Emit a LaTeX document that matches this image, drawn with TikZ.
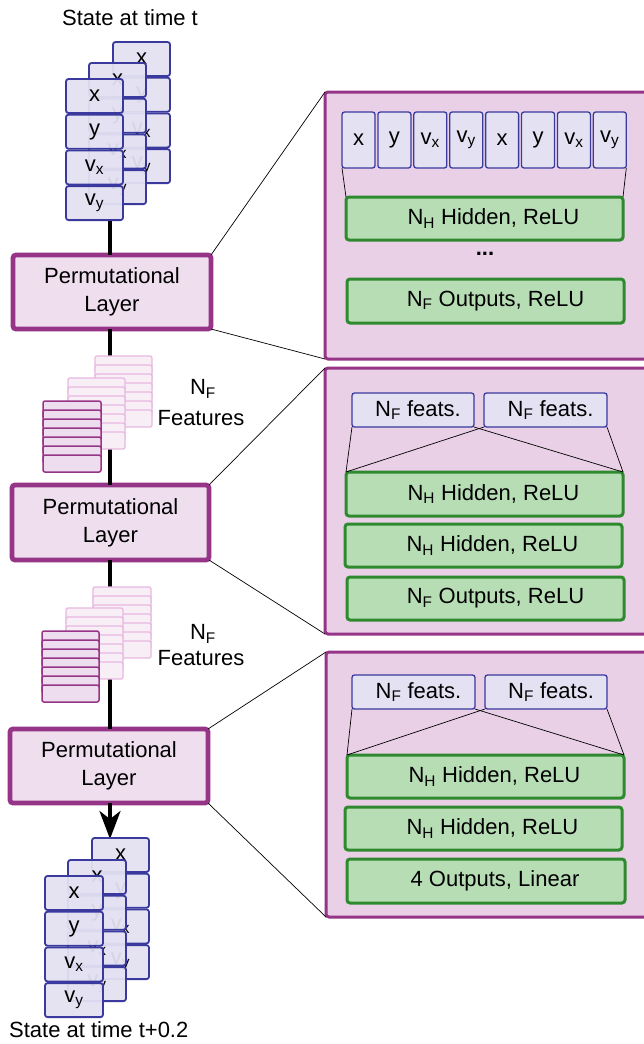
\documentclass[tikz,border=0pt]{standalone}
\usepackage{fontspec}
\setmainfont{Liberation Sans}
\usetikzlibrary{arrows.meta}
\definecolor{cellfill}{HTML}{E4E2F2}
\definecolor{celldraw}{HTML}{3A3A9E}
\definecolor{grfill}{HTML}{B7DDB5}
\definecolor{grdraw}{HTML}{2F8A2F}
\definecolor{purp}{HTML}{963487}
\definecolor{permfill}{HTML}{EFDFEE}
\definecolor{bigfill}{HTML}{E9D0E7}
\definecolor{ltdraw}{HTML}{E8B9E1}
\definecolor{ltfill}{HTML}{F7EEF6}
\definecolor{dkfill}{HTML}{EEDDEE}
\tikzset{
  base/.style={inner sep=0pt, outer sep=0pt, anchor=north west, font=\fontsize{22}{28}\selectfont},
  cellbox/.style={base, draw=celldraw, fill=cellfill, fill opacity=0.94, text opacity=1, line width=1.8pt, rounded corners=2.5pt},
  featbox/.style={base, draw=celldraw, fill=cellfill, line width=1.3pt, rounded corners=2.5pt},
  greenbox/.style={base, draw=grdraw, fill=grfill, line width=3pt, rounded corners=3pt},
  permbox/.style={base, draw=purp, fill=permfill, line width=4.8pt, rounded corners=3pt, align=center},
  bigbox/.style={base, draw=purp, fill=bigfill, line width=3pt, rounded corners=3pt},
  ltcard/.style={base, draw=ltdraw, fill=ltfill, line width=1.3pt, rounded corners=2pt},
  dkcard/.style={base, draw=purp, fill=dkfill, line width=1.5pt, rounded corners=2pt},
  spine/.style={line width=3.5pt, black},
  thin/.style={line width=0.7pt, black},
  lbl/.style={inner sep=0pt, font=\fontsize{22}{28}\selectfont, align=center},
  shiftr/.style={execute at begin node=\hspace*{#1}},
}
\newcommand\Nsub[1]{N\textsubscript{#1}}
% stack of 4 state cells: prefix, x, ytop, width
\newcommand\statestack[4]{%
  \foreach \i/\t in {0/x,1/y,2/{v\textsubscript{x}},3/{v\textsubscript{y}}}{%
    \node[cellbox, minimum width=#4pt, minimum height=34pt] (#1\i) at (#2,{#3+35.7*\i}) {\t};
  }}
% stack of 7 feature cards: prefix, style, x, ytop, width
\newcommand\featstack[5]{%
  \foreach \i in {0,...,6}{%
    \node[#2, minimum width=#5pt, minimum height=17pt] (#1\i) at (#3,{#4+9*\i}) {};
  }}
\begin{document}
\begin{tikzpicture}[x=1pt,y=-1pt]
\useasboundingbox (0,0) rectangle (643,1044);
\fill[white] (0,0) rectangle (643,1044);

% coordinates for spine ends
\coordinate (spinetop) at (110,221);
\coordinate (spinebot) at (110,839);

% big right boxes
\node[bigbox, minimum width=340pt, minimum height=267pt] (big1) at (325,92) {};
\node[bigbox, minimum width=340pt, minimum height=266pt] (big2) at (325,368) {};
\node[bigbox, minimum width=340pt, minimum height=265pt] (big3) at (326,652) {};

% permutational layers
\node[permbox, minimum width=198pt, minimum height=74pt] (perm1) at (13,255) {Permutational\\Layer};
\node[permbox, minimum width=197pt, minimum height=75pt] (perm2) at (12,485) {Permutational\\Layer};
\node[permbox, minimum width=198pt, minimum height=74pt] (perm3) at (10,729) {Permutational\\Layer};

% spine
\draw[spine] (spinetop) -- (perm1.north -| spinetop);
\draw[spine] (perm1.south -| spinetop) -- (perm2.north -| spinetop);
\draw[spine] (perm2.south -| spinetop) -- (perm3.north -| spinetop);
\draw[spine, -{Stealth[length=28pt,width=21pt,inset=8pt]}] (perm3.south -| spinetop) -- (spinebot);

% connectors to big boxes
\draw[thin] (perm1.north east) -- (big1.north west);
\draw[thin] (perm1.south east) -- (big1.south west);
\draw[thin] (perm2.north east) -- (big2.north west);
\draw[thin] (perm2.south east) -- (big2.south west);
\draw[thin] (perm3.north east) -- (big3.north west);
\draw[thin] (perm3.south east) -- (big3.south west);

% state stacks (top)
\statestack{ta}{113}{42}{57}
\statestack{tb}{89}{63}{57}
\statestack{tc}{66}{79}{57}
\node[lbl] (toptitle) at (130,18) {State at time t};

% state stacks (bottom)
\statestack{ba}{92}{838}{57}
\statestack{bb}{68}{860}{58}
\statestack{bc}{45}{876}{58}
\node[lbl, anchor=west] (bottitle) at (9,1030) {State at time t+0.2};

% feature stacks 1
\featstack{fa}{ltcard}{95}{356}{57}
\featstack{fb}{ltcard}{68}{378}{57}
\featstack{fc}{dkcard}{43}{401}{58}
\node[lbl] (nf1) at (203,389) {\Nsub{F}};
\node[lbl] (feat1) at (201,418) {Features};

% feature stacks 2
\featstack{ga}{ltcard}{93}{587}{58}
\featstack{gb}{ltcard}{66}{608}{57}
\featstack{gc}{dkcard}{42}{631}{57}
\node[lbl] (nf2) at (203,634) {\Nsub{F}};
\node[lbl] (feat2) at (201,658) {Features};

% big box 1 contents
\foreach \i/\t in {0/x,1/y,2/{v\textsubscript{x}},3/{v\textsubscript{y}},4/x,5/y,6/{v\textsubscript{x}},7/{v\textsubscript{y}}}{%
  \node[featbox, minimum width=33pt, minimum height=56pt] (in\i) at ({342+35.9*\i},112) {\t};
}
\node[greenbox, shiftr=18pt, minimum width=277pt, minimum height=43pt] (h11) at (346,197) {\Nsub{H} Hidden, ReLU};
\node[lbl] (dots) at (485,254) {\textbf{...}};
\node[greenbox, shiftr=20pt, minimum width=277pt, minimum height=44pt] (h12) at (347,279) {\Nsub{F} Outputs, ReLU};
\draw[thin] (in0.south west) -- (h11.north west);
\draw[thin] (in7.south east) -- (h11.north east);

% big box 2 contents
\node[featbox, shiftr=10pt, minimum width=122pt, minimum height=34pt] (fa2) at (352,393) {\Nsub{F} feats.};
\node[featbox, shiftr=10pt, minimum width=123pt, minimum height=34pt] (fb2) at (484,393) {\Nsub{F} feats.};
\node[greenbox, shiftr=18pt, minimum width=277pt, minimum height=44pt] (h21) at (346,472) {\Nsub{H} Hidden, ReLU};
\node[greenbox, shiftr=18pt, minimum width=277pt, minimum height=43pt] (h22) at (345,524) {\Nsub{H} Hidden, ReLU};
\node[greenbox, shiftr=20pt, minimum width=277pt, minimum height=43pt] (h23) at (347,577) {\Nsub{F} Outputs, ReLU};
\draw[thin] (fa2.south west) -- (h21.north west);
\draw[thin] (fa2.south east) -- (h21.north east);
\draw[thin] (fb2.south west) -- (h21.north west);
\draw[thin] (fb2.south east) -- (h21.north east);

% big box 3 contents
\node[featbox, shiftr=10pt, minimum width=123pt, minimum height=34pt] (fa3) at (352,675) {\Nsub{F} feats.};
\node[featbox, shiftr=10pt, minimum width=122pt, minimum height=34pt] (fb3) at (485,675) {\Nsub{F} feats.};
\node[greenbox, shiftr=18pt, minimum width=277pt, minimum height=43pt] (h31) at (347,755) {\Nsub{H} Hidden, ReLU};
\node[greenbox, shiftr=18pt, minimum width=277pt, minimum height=43pt] (h32) at (345,807) {\Nsub{H} Hidden, ReLU};
\node[greenbox, shiftr=18pt, minimum width=278pt, minimum height=44pt] (h33) at (347,859) {4 Outputs, Linear};
\draw[thin] (fa3.south west) -- (h31.north west);
\draw[thin] (fa3.south east) -- (h31.north east);
\draw[thin] (fb3.south west) -- (h31.north west);
\draw[thin] (fb3.south east) -- (h31.north east);
\end{tikzpicture}
\end{document}
